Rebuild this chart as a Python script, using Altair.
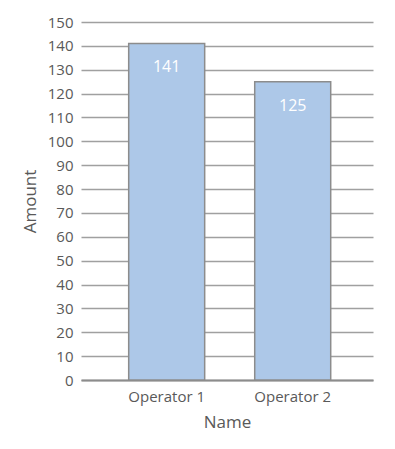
import altair as alt
import pandas as pd

# Operator totals
names = ["Operator 1", "Operator 2"]
amounts = [141, 125]

df = pd.DataFrame({"Name": names, "Amount": amounts})

FONT = "Open Sans"
TEXT = "#595959"

base = alt.Chart(df).encode(
    x=alt.X(
        "Name:N",
        sort=names,
        scale=alt.Scale(paddingInner=0.397, paddingOuter=0.357, align=0.53),
        axis=alt.Axis(
            title="Name",
            labelAngle=0,
            labelFont=FONT,
            labelFontSize=15,
            labelColor=TEXT,
            labelPadding=9,
            titleFont=FONT,
            titleFontSize=17,
            titleFontWeight="normal",
            titleColor=TEXT,
            titlePadding=10,
            ticks=False,
            domain=True,
            domainColor="#8c8c8c",
            domainWidth=2,
            grid=False,
        ),
    ),
    y=alt.Y(
        "Amount:Q",
        scale=alt.Scale(domain=[0, 150], nice=False),
        axis=alt.Axis(
            title="Amount",
            values=list(range(0, 151, 10)),
            labelFont=FONT,
            labelFontSize=15,
            labelColor=TEXT,
            labelPadding=8,
            titleFont=FONT,
            titleFontSize=17,
            titleFontWeight="normal",
            titleColor=TEXT,
            titlePadding=8,
            ticks=False,
            domain=False,
            grid=True,
            gridColor="#a0a0a0",
            gridWidth=1.5,
        ),
    ),
)

bars = base.mark_bar(
    color="#adc8e8",
    stroke="#8c8c8c",
    strokeWidth=1.5,
)

labels = base.mark_text(
    dy=24,
    baseline="middle",
    font=FONT,
    fontSize=16,
    color="white",
).encode(text="Amount:Q")

chart = (
    (bars + labels)
    .properties(
        width=292,
        height=358,
        autosize=alt.AutoSizeParams(type="none"),
        padding={"left": 81, "top": 22, "right": 22, "bottom": 69},
    )
    .configure_view(stroke=None)
)

chart.save("out.html", embed_options={"renderer": "svg", "actions": False})
